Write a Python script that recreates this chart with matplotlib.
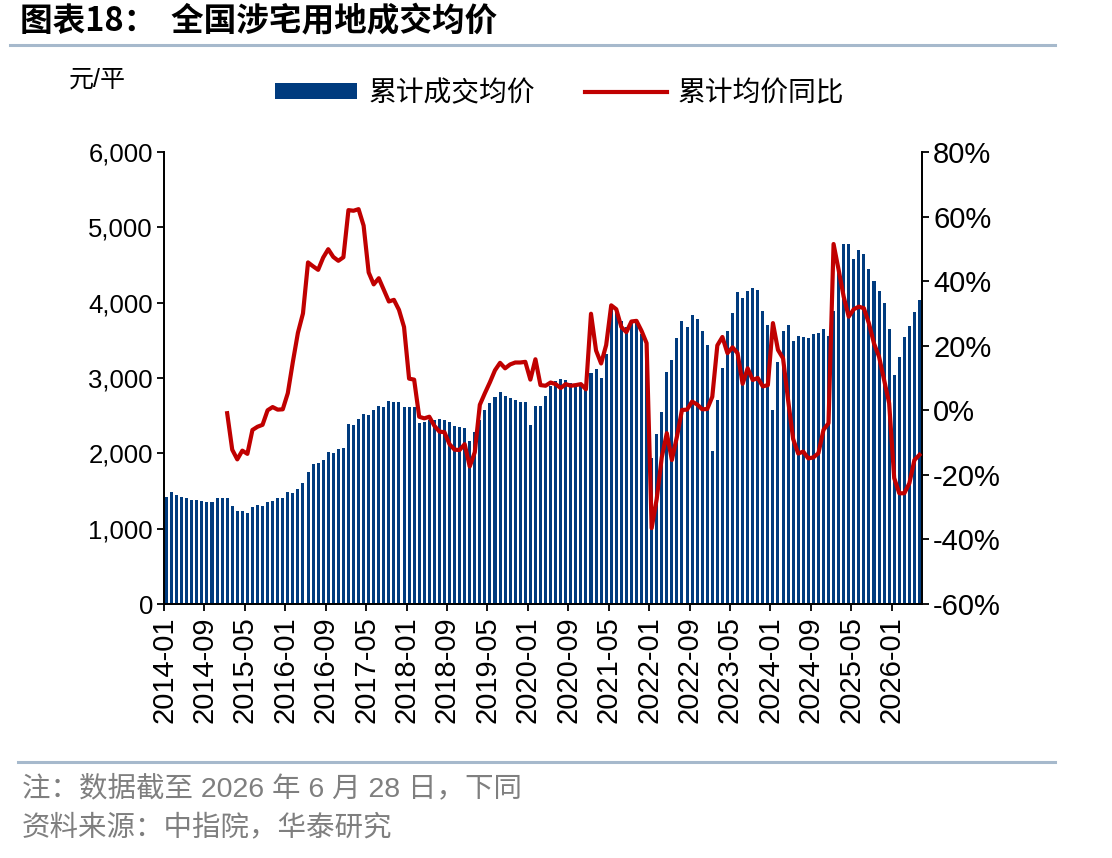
import numpy as np
import pandas as pd
import matplotlib
matplotlib.use('Agg')
import matplotlib.pyplot as plt
from matplotlib.lines import Line2D
from matplotlib.patches import Patch
from matplotlib.ticker import FuncFormatter, MultipleLocator

plt.rcParams['font.family'] = ['Liberation Sans', 'Noto Sans CJK SC', 'DejaVu Sans']

# ---------------- data ----------------
months = [str(p) for p in pd.period_range('2014-01', '2026-06', freq='M')]

# 累计成交均价 (元/平)
avg_price = [
    1425, 1482, 1447, 1414, 1403, 1378, 1381, 1367, 1356, 1350, 1407, 1407,   # 2014
    1403, 1301, 1232, 1235, 1208, 1290, 1312, 1303, 1354, 1363, 1403, 1407,   # 2015
    1482, 1470, 1520, 1604, 1757, 1854, 1872, 1918, 2022, 2002, 2056, 2075,   # 2016
    2385, 2376, 2460, 2518, 2504, 2571, 2624, 2611, 2700, 2686, 2686, 2611,   # 2017
    2620, 2615, 2407, 2420, 2442, 2445, 2451, 2442, 2412, 2363, 2352, 2330,   # 2018
    2164, 2279, 2442, 2570, 2668, 2750, 2808, 2759, 2741, 2702, 2688, 2679,   # 2019
    2374, 2628, 2628, 2761, 2900, 2960, 2982, 2970, 2940, 2907, 2900, 2870,   # 2020
    3073, 3115, 3000, 3317, 3920, 3889, 3761, 3681, 3726, 3735, 3580, 3460,   # 2021
    1934, 2252, 2555, 3082, 3237, 3531, 3757, 3673, 3836, 3783, 3624, 3434,   # 2022
    2031, 2704, 3128, 3624, 3858, 4137, 4064, 4150, 4190, 4168, 3883, 3704,   # 2023
    2575, 3215, 3630, 3704, 3491, 3564, 3549, 3527, 3582, 3593, 3646, 3558,   # 2024
    3896, 4438, 4774, 4774, 4575, 4699, 4646, 4447, 4283, 4155, 3991, 3646,   # 2025
    3035, 3281, 3546, 3684, 3872, 4042,                                       # 2026
]

# 累计均价同比 (%), starting 2015-01
yoy_start = '2015-01'
yoy = [
    -0.9, -12.2, -15.2, -12.5, -13.5, -6.1, -5.1, -4.5, 0.0, 1.0, 0.2, 0.3,   # 2015
    5.3, 15.0, 24.0, 30.0, 45.8, 44.6, 43.5, 47.3, 49.9, 47.5, 46.3, 47.4,    # 2016
    62.0, 61.8, 62.3, 57.2, 42.7, 39.0, 40.9, 37.3, 33.7, 34.2, 31.1, 25.8,   # 2017
    9.8, 9.5, -2.0, -2.5, -2.0, -4.8, -6.6, -6.8, -10.5, -12.2, -12.3, -10.5, # 2018
    -17.4, -13.0, 1.7, 5.3, 8.7, 12.4, 14.7, 13.0, 14.2, 14.8, 14.8, 15.0,    # 2019
    9.5, 15.8, 7.8, 7.6, 8.6, 8.1, 6.9, 8.1, 7.6, 7.8, 8.1, 6.5,              # 2020
    29.9, 18.5, 14.5, 20.2, 32.5, 31.3, 25.8, 24.2, 27.5, 27.7, 24.6, 20.8,   # 2021
    -36.5, -27.5, -14.6, -7.1, -15.4, -8.2, 0.1, 0.2, 2.7, 1.8, 0.3, 0.4,     # 2022
    4.2, 20.1, 22.7, 17.7, 19.5, 17.7, 8.2, 13.0, 9.4, 10.0, 7.4, 7.8,        # 2023
    27.0, 18.7, 16.1, 3.2, -8.9, -13.4, -12.8, -14.9, -14.6, -13.3, -6.1, -4.0, # 2024
    51.5, 43.5, 35.2, 29.0, 31.3, 32.1, 31.6, 26.9, 20.7, 16.6, 9.4, 2.2,     # 2025
    -21.0, -25.7, -25.7, -22.6, -15.4, -13.8,                                 # 2026
]

title = '图表18：  全国涉宅用地成交均价'
unit_label = '元/平'
bar_label = '累计成交均价'
line_label = '累计均价同比'
note = '注：数据截至 2026 年 6 月 28 日，下同'
source = '资料来源：中指院，华泰研究'

# ---------------- figure ----------------
W, H = 1112, 858
fig = plt.figure(figsize=(W / 100, H / 100), dpi=100)

ax_l, ax_r, ax_t, ax_b = 164, 922, 152, 604
ax = fig.add_axes([ax_l / W, 1 - ax_b / H, (ax_r - ax_l) / W, (ax_b - ax_t) / H])

BLUE = '#003b7e'
RED = '#c00000'

x = np.arange(len(avg_price)) + 0.5
ax.bar(x, avg_price, width=0.6, color=BLUE, linewidth=0, zorder=2)
ax.set_xlim(0, len(months))
ax.set_ylim(0, 6000)
ax.yaxis.set_major_locator(MultipleLocator(1000))
ax.yaxis.set_major_formatter(FuncFormatter(lambda v, p: f'{v:,.0f}'))

tick_pos = np.arange(0, len(months), 8)
ax.set_xticks(tick_pos)
ax.set_xticklabels([months[i] for i in tick_pos], rotation=90)

ax2 = ax.twinx()
start = months.index(yoy_start)
x2 = np.arange(start, start + len(yoy)) + 0.5
ax2.plot(x2, yoy, color=RED, linewidth=3.0, solid_joinstyle='round', zorder=3)
ax2.set_ylim(-60, 80)
ax2.yaxis.set_major_locator(MultipleLocator(20))
ax2.yaxis.set_major_formatter(FuncFormatter(lambda v, p: f'{v:.0f}%'))

for a in (ax, ax2):
    a.spines['top'].set_visible(False)
    for s in ('left', 'right', 'bottom'):
        a.spines[s].set_linewidth(1.3)
        a.spines[s].set_color('black')
    a.tick_params(axis='both', direction='out', length=5, width=1.3, colors='black')
ax.tick_params(axis='x', pad=4, labelsize=21)
ax.tick_params(axis='y', pad=3, labelsize=18.5)
ax2.tick_params(axis='y', pad=3, labelsize=21)
ax.set_facecolor('none')

# ---------------- legend ----------------
handles = [Patch(facecolor=BLUE, edgecolor='none', label=bar_label),
           Line2D([0], [0], color=RED, linewidth=3.0, label=line_label)]
fig.legend(handles=handles, loc='center', bbox_to_anchor=(560 / W, 1 - 93 / H),
           ncol=2, frameon=False, handlelength=2.95, handleheight=0.52,
           handletextpad=0.4, columnspacing=1.8,
           prop={'family': ['Noto Sans CJK SC'], 'size': 20})

fig.text(97 / W, 1 - 80 / H, unit_label, ha='center', va='center', fontsize=18,
         family=['Liberation Sans', 'Noto Sans CJK SC'])

# ---------------- title & footer ----------------
fig.text(20 / W, 1 - 22 / H, title, ha='left', va='center', fontsize=23.5,
         fontweight='bold', family=['Noto Sans CJK SC'])
fig.add_artist(Line2D([10 / W, 1055 / W], [1 - 45 / H, 1 - 45 / H], color='#a6b9cc', linewidth=2.2))
fig.add_artist(Line2D([18 / W, 1055 / W], [1 - 762 / H, 1 - 762 / H], color='#a6b9cc', linewidth=2.2))
fig.text(22 / W, 1 - 789 / H, note, ha='left', va='center', fontsize=20.5, color='#7f7f7f',
         family=['Liberation Sans', 'Noto Sans CJK SC'])
fig.text(22 / W, 1 - 828 / H, source, ha='left', va='center', fontsize=20.5, color='#7f7f7f',
         family=['Noto Sans CJK SC'])

fig.savefig('out.png', dpi=100, facecolor='white')
